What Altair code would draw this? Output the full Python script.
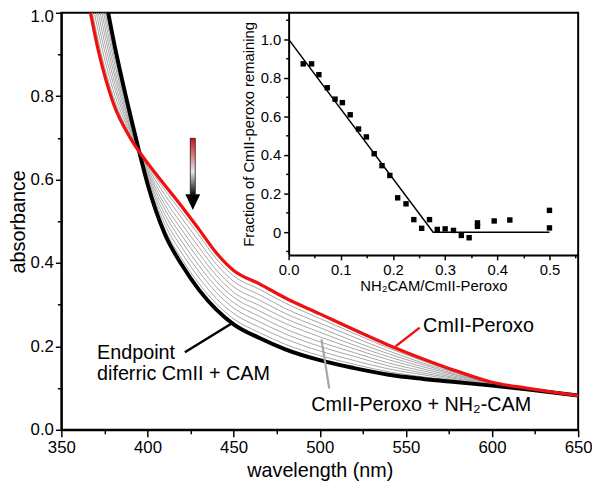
import altair as alt
import pandas as pd

# ---------------- main spectra ----------------
wavelength = [365, 372, 380, 390, 395, 400, 410, 420, 430, 440, 450, 465, 480,
              500, 520, 540, 560, 580, 600, 620, 650]
cmii_peroxo = [1.04, 0.90, 0.785, 0.70, 0.668, 0.640, 0.587, 0.535, 0.48, 0.424, 0.382,
               0.35, 0.316, 0.278, 0.24, 0.203, 0.17, 0.14, 0.114, 0.10, 0.082]
endpoint = [1.30, 1.12, 0.94, 0.755, 0.67, 0.59, 0.47, 0.395, 0.335, 0.288, 0.253,
            0.22, 0.193, 0.167, 0.148, 0.132, 0.122, 0.114, 0.106, 0.097, 0.082]
titration_1 = [1.274, 1.098, 0.925, 0.750, 0.670, 0.595, 0.482, 0.409, 0.350, 0.302, 0.266, 0.233, 0.205, 0.178, 0.157, 0.139, 0.127, 0.117, 0.107, 0.097, 0.082]
titration_2 = [1.248, 1.076, 0.909, 0.744, 0.670, 0.600, 0.493, 0.423, 0.364, 0.315, 0.279, 0.246, 0.218, 0.189, 0.166, 0.146, 0.132, 0.119, 0.108, 0.098, 0.082]
titration_3 = [1.222, 1.054, 0.894, 0.739, 0.669, 0.605, 0.505, 0.437, 0.379, 0.329, 0.292, 0.259, 0.230, 0.200, 0.176, 0.153, 0.136, 0.122, 0.108, 0.098, 0.082]
titration_4 = [1.196, 1.032, 0.878, 0.733, 0.669, 0.610, 0.517, 0.451, 0.393, 0.342, 0.305, 0.272, 0.242, 0.211, 0.185, 0.160, 0.141, 0.124, 0.109, 0.098, 0.082]
titration_5 = [1.170, 1.010, 0.863, 0.728, 0.669, 0.615, 0.529, 0.465, 0.408, 0.356, 0.318, 0.285, 0.255, 0.223, 0.194, 0.168, 0.146, 0.127, 0.110, 0.099, 0.082]
titration_6 = [1.144, 0.988, 0.847, 0.722, 0.669, 0.620, 0.540, 0.479, 0.422, 0.370, 0.330, 0.298, 0.267, 0.234, 0.203, 0.175, 0.151, 0.130, 0.111, 0.099, 0.082]
titration_7 = [1.118, 0.966, 0.832, 0.717, 0.669, 0.625, 0.552, 0.493, 0.437, 0.383, 0.343, 0.311, 0.279, 0.245, 0.212, 0.182, 0.156, 0.132, 0.112, 0.099, 0.082]
titration_8 = [1.092, 0.944, 0.816, 0.711, 0.668, 0.630, 0.564, 0.507, 0.451, 0.397, 0.356, 0.324, 0.291, 0.256, 0.222, 0.189, 0.160, 0.135, 0.112, 0.099, 0.082]
titration_9 = [1.066, 0.922, 0.801, 0.706, 0.668, 0.635, 0.575, 0.521, 0.466, 0.410, 0.369, 0.337, 0.304, 0.267, 0.231, 0.196, 0.165, 0.137, 0.113, 0.100, 0.082]
titrations = [titration_1, titration_2, titration_3, titration_4, titration_5,
              titration_6, titration_7, titration_8, titration_9]

# ---------------- inset ----------------
ratio = [0.028, 0.044, 0.058, 0.074, 0.089, 0.103, 0.118, 0.134, 0.149, 0.164, 0.179,
         0.194, 0.209, 0.225, 0.240, 0.255, 0.270, 0.285, 0.300, 0.316, 0.331, 0.346,
         0.362, 0.362, 0.394, 0.424, 0.500, 0.500]
fraction = [0.873, 0.873, 0.817, 0.749, 0.690, 0.672, 0.609, 0.535, 0.494, 0.407, 0.345,
            0.294, 0.178, 0.147, 0.065, 0.020, 0.065, 0.014, 0.017, 0.009, -0.017, -0.029,
            0.048, 0.030, 0.058, 0.063, 0.113, 0.022]
fit_ratio = [0.0, 0.277, 0.5]
fit_fraction = [1.0, 0.0, 0.0]

# ---------------- annotations ----------------
label_text = ["CmII-Peroxo", "CmII-Peroxo + NH₂-CAM", "Endpoint", "diferric CmII + CAM"]
label_wl = [560, 495, 370.7, 370.7]
label_abs = [0.249, 0.059, 0.184, 0.134]

FONT = "Liberation Sans"
RED = "#ee1111"
GREY = "#a6a6a6"

grey_df = pd.DataFrame(
    [{"wl": w, "abs": a, "curve": i} for i, c in enumerate(titrations)
     for w, a in zip(wavelength, c)]
)
main_df = pd.DataFrame({"wl": wavelength, "red": cmii_peroxo, "black": endpoint})

x_scale = alt.Scale(domain=[350, 650], nice=False, zero=False)
y_scale = alt.Scale(domain=[0, 1], nice=False, zero=False)

x_axis = alt.Axis(
    title="wavelength (nm)", values=list(range(350, 651, 25)), format="d",
    labelExpr="datum.value % 50 == 0 ? datum.label : ''",
    tickSize={"condition": {"test": "datum.value % 50 != 0", "value": 4}, "value": 7},
    labelFontSize=17, titleFontSize=20, labelPadding=3, titlePadding=5,
    labelFlush=False, labelOverlap=False, orient="bottom",
)
y_axis = alt.Axis(
    title="absorbance", values=[0, 0.1, 0.2, 0.3, 0.4, 0.5, 0.6, 0.7, 0.8, 0.9, 1.0],
    format=".1f",
    labelExpr="round(datum.value*10) % 2 == 0 ? datum.label : ''",
    tickSize={"condition": {"test": "round(datum.value*10) % 2 != 0", "value": 4}, "value": 6},
    labelOffset={"condition": {"test": "datum.value == 1", "value": 4}, "value": 0},
    labelFontSize=17, titleFontSize=20, labelPadding=2, titlePadding=2,
    labelFlush=False, labelOverlap=False, orient="left",
)


def X(f):
    return alt.X(f"{f}:Q", scale=x_scale, axis=x_axis)


def Y(f):
    return alt.Y(f"{f}:Q", scale=y_scale, axis=y_axis)


grey = alt.Chart(grey_df).mark_line(
    color=GREY, strokeWidth=1, clip=True, interpolate="monotone"
).encode(x=X("wl"), y=Y("abs"), detail="curve:N")

black = alt.Chart(main_df).mark_line(
    color="black", strokeWidth=4, clip=True, interpolate="monotone"
).encode(x=X("wl"), y=Y("black"))

red = alt.Chart(main_df).mark_line(
    color=RED, strokeWidth=3.3, clip=True, interpolate="monotone"
).encode(x=X("wl"), y=Y("red"))


def pointer(x1, y1, x2, y2, color, width):
    df = pd.DataFrame({"a": [x1], "b": [y1], "c": [x2], "d": [y2]})
    return alt.Chart(df).mark_rule(color=color, strokeWidth=width).encode(
        x=X("a"), y=Y("b"), x2="c", y2="d"
    )


ptr_red = pointer(544, 0.2, 558, 0.245, RED, 2.5)
ptr_black = pointer(421.7, 0.186, 449.3, 0.256, "black", 2.5)
ptr_grey = pointer(501, 0.217, 505.5, 0.099, GREY, 2.2)

text_df = pd.DataFrame({"wl": label_wl, "abs": label_abs, "t": label_text})
texts = alt.Chart(text_df).mark_text(
    align="left", baseline="middle", fontSize=20, font=FONT, color="black"
).encode(x=X("wl"), y=Y("abs"), text="t:N")

# arrow
shaft_df = pd.DataFrame({"a": [424.85], "c": [427.75], "b": [0.699], "d": [0.565]})
shaft = alt.Chart(shaft_df).mark_rect(
    fill=alt.Gradient(
        gradient="linear", x1=0, x2=0, y1=0, y2=1,
        stops=[alt.GradientStop(color="#d10f18", offset=0),
               alt.GradientStop(color="#e6e6e6", offset=0.6),
               alt.GradientStop(color="#111111", offset=1)],
    ),
    stroke="black", strokeWidth=0.7,
).encode(x=X("a"), x2="c", y=Y("b"), y2="d")

head_df = pd.DataFrame({"a": [426.3], "b": [0.546]})
head = alt.Chart(head_df).mark_point(
    shape="M-1,-1.05L1,-1.05L0,1.05Z", size=225, filled=True, color="black", opacity=1
).encode(x=X("a"), y=Y("b"))

main = alt.layer(grey, black, red, ptr_red, ptr_black, ptr_grey, texts, shaft, head)

# inset
ix_scale = alt.Scale(domain=[0, 0.555], range=[230, 523], nice=False, zero=False)
iy_scale = alt.Scale(domain=[-0.118, 1.138], range=[245, 0], nice=False, zero=False)

ix_axis = alt.Axis(
    title="NH₂CAM/CmII-Peroxo", orient="bottom", offset=-177,
    values=[0, 0.05, 0.1, 0.15, 0.2, 0.25, 0.3, 0.35, 0.4, 0.45, 0.5, 0.55],
    format=".1f",
    labelExpr="round(datum.value*20) % 2 == 0 ? datum.label : ''",
    tickSize={"condition": {"test": "round(datum.value*20) % 2 != 0", "value": 3}, "value": 5},
    labelFontSize=15, titleFontSize=15, labelPadding=3, titlePadding=1,
    labelFlush=False, labelOverlap=False,
)
iy_axis = alt.Axis(
    title="Fraction of CmII-peroxo remaining", orient="left", offset=-230,
    values=[-0.1, 0, 0.1, 0.2, 0.3, 0.4, 0.5, 0.6, 0.7, 0.8, 0.9, 1.0, 1.1],
    labelExpr="datum.value == 0 ? '0' : (abs(round(datum.value*10)) % 2 == 0 ? format(datum.value, '.1f') : '')",
    tickSize={"condition": {"test": "abs(round(datum.value*10)) % 2 != 0", "value": 3}, "value": 5},
    labelFontSize=15, titleFontSize=15, labelPadding=3, titlePadding=4,
    labelFlush=False, labelOverlap=False,
)

pts_df = pd.DataFrame({"r": ratio, "f": fraction})
fit_df = pd.DataFrame({"r": fit_ratio, "f": fit_fraction})

pts = alt.Chart(pts_df).mark_square(size=30, color="black", opacity=1).encode(
    x=alt.X("r:Q", scale=ix_scale, axis=ix_axis),
    y=alt.Y("f:Q", scale=iy_scale, axis=iy_axis),
)
fit = alt.Chart(fit_df).mark_line(color="black", strokeWidth=1.5).encode(
    x=alt.X("r:Q", scale=ix_scale, axis=ix_axis),
    y=alt.Y("f:Q", scale=iy_scale, axis=iy_axis),
)
inset = alt.layer(fit, pts)

chart = alt.layer(main, inset).resolve_scale(
    x="independent", y="independent"
).properties(
    width=523, height=422,
    autosize=alt.AutoSizeParams(type="none"),
    padding={"left": 54, "top": 2, "right": 14, "bottom": 52},
).configure_view(
    stroke="black", strokeWidth=2
).configure_axis(
    domainColor="black", domainWidth=2, tickColor="black", tickWidth=1.5,
    labelColor="black", titleColor="black", labelFont=FONT, titleFont=FONT,
    titleFontWeight="normal", grid=False,
)

chart.save("out.html", embed_options={"renderer": "svg", "actions": False})
